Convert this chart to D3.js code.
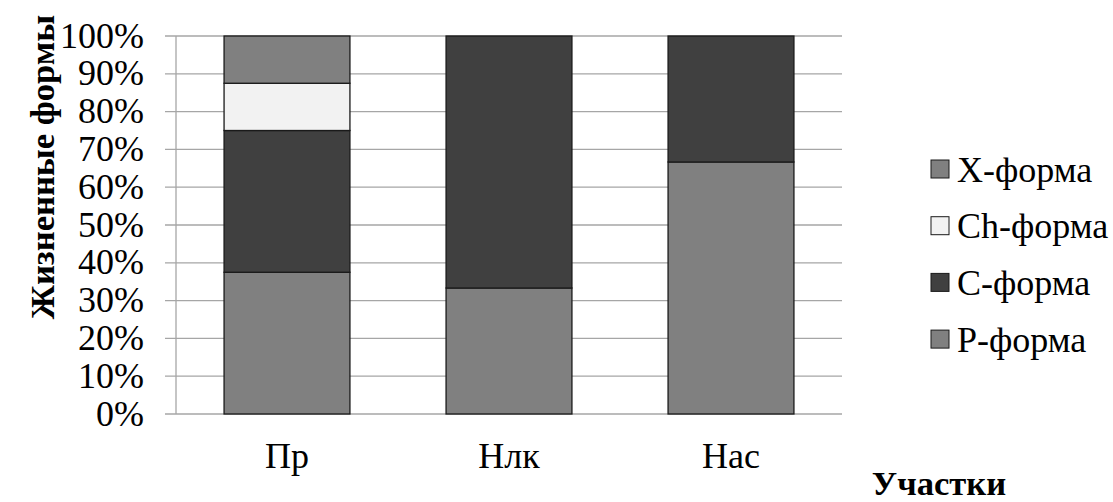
<!DOCTYPE html>
<html><head><meta charset="utf-8">
<script src="https://cdn.jsdelivr.net/npm/d3@7"></script>
</head>
<body style="margin:0;background:#fff"><svg id="c" width="1113" height="502" style="font-family:'Liberation Serif','Times New Roman',Tinos,serif"></svg>
<script>
const categories = ["Пр", "Нлк", "Нас"];
const pForma  = [0.375, 0.3333, 0.6667];
const cForma  = [0.375, 0.6667, 0.3333];
const chForma = [0.125, 0, 0];
const xForma  = [0.125, 0, 0];
const seriesNames = ["P-форма", "C-форма", "Ch-форма", "X-форма"];
const seriesColors = ["#808080", "#404040", "#f2f2f2", "#808080"];
const yTicks = [0,0.1,0.2,0.3,0.4,0.5,0.6,0.7,0.8,0.9,1];
const legendOrder = ["X-форма", "Ch-форма", "C-форма", "P-форма"];
const SERIF = "'Liberation Serif','Times New Roman',Tinos,serif";

const svg = d3.select("#c");
const x = d3.scaleBand().domain(categories).range([176, 842]).paddingInner(0.433).paddingOuter(0.2165);
const y = d3.scaleLinear().domain([0, 1]).range([414, 36]);
const color = d3.scaleOrdinal().domain(seriesNames).range(seriesColors);

const rows = categories.map((c, i) => ({cat: c, "P-форма": pForma[i], "C-форма": cForma[i], "Ch-форма": chForma[i], "X-форма": xForma[i]}));
const stacked = d3.stack().keys(seriesNames)(rows);

// gridlines and axis
svg.append("g").selectAll("line").data(yTicks).join("line")
  .attr("x1", 165).attr("x2", 842).attr("y1", d => y(d)).attr("y2", d => y(d))
  .attr("stroke", "#a6a6a6").attr("stroke-width", 1.3);
svg.append("line").attr("x1", 176).attr("x2", 176).attr("y1", y(1)).attr("y2", y(0))
  .attr("stroke", "#a6a6a6").attr("stroke-width", 1.3);

// tick labels
svg.append("g").selectAll("text").data(yTicks).join("text")
  .attr("x", 144).attr("y", d => y(d) + 11.5).attr("text-anchor", "end")
  .attr("font-family", "Liberation Serif").style("font-family", SERIF)
  .attr("font-size", 36).text(d => Math.round(d*100) + "%");

// bars
svg.append("g").selectAll("g").data(stacked).join("g")
  .attr("fill", d => color(d.key))
  .selectAll("rect").data(d => d.filter(s => s[1] - s[0] > 0)).join("rect")
  .attr("x", d => x(d.data.cat)).attr("width", x.bandwidth())
  .attr("y", d => y(d[1])).attr("height", d => y(d[0]) - y(d[1]))
  .attr("stroke", "#1a1a1a").attr("stroke-width", 1.3);

// category labels
svg.append("g").selectAll("text").data(categories).join("text")
  .attr("x", d => x(d) + x.bandwidth()/2).attr("y", 468).attr("text-anchor", "middle")
  .attr("font-family", "Liberation Serif").style("font-family", SERIF)
  .attr("font-size", 36).text(d => d);

// y title
svg.append("text").attr("transform", "translate(54,167) rotate(-90)").attr("text-anchor", "middle")
  .attr("font-family", "Liberation Serif").style("font-family", SERIF)
  .attr("font-size", 34.6).attr("font-weight", "bold").text("Жизненные формы");

// x title
svg.append("text").attr("x", 939).attr("y", 495).attr("text-anchor", "middle")
  .attr("font-family", "Liberation Serif").style("font-family", SERIF)
  .attr("font-size", 34.6).attr("font-weight", "bold").text("Участки");

// legend
const lg = svg.append("g").selectAll("g").data(legendOrder).join("g")
  .attr("transform", (d, i) => `translate(931,${169 + i*56.7})`);
lg.append("rect").attr("x", 0).attr("y", -9).attr("width", 18).attr("height", 18)
  .attr("fill", d => color(d)).attr("stroke", "#1a1a1a").attr("stroke-width", 1);
lg.append("text").attr("x", 26).attr("y", 12.5)
  .attr("font-family", "Liberation Serif").style("font-family", SERIF)
  .attr("font-size", 36).text(d => d);
</script></body></html>
